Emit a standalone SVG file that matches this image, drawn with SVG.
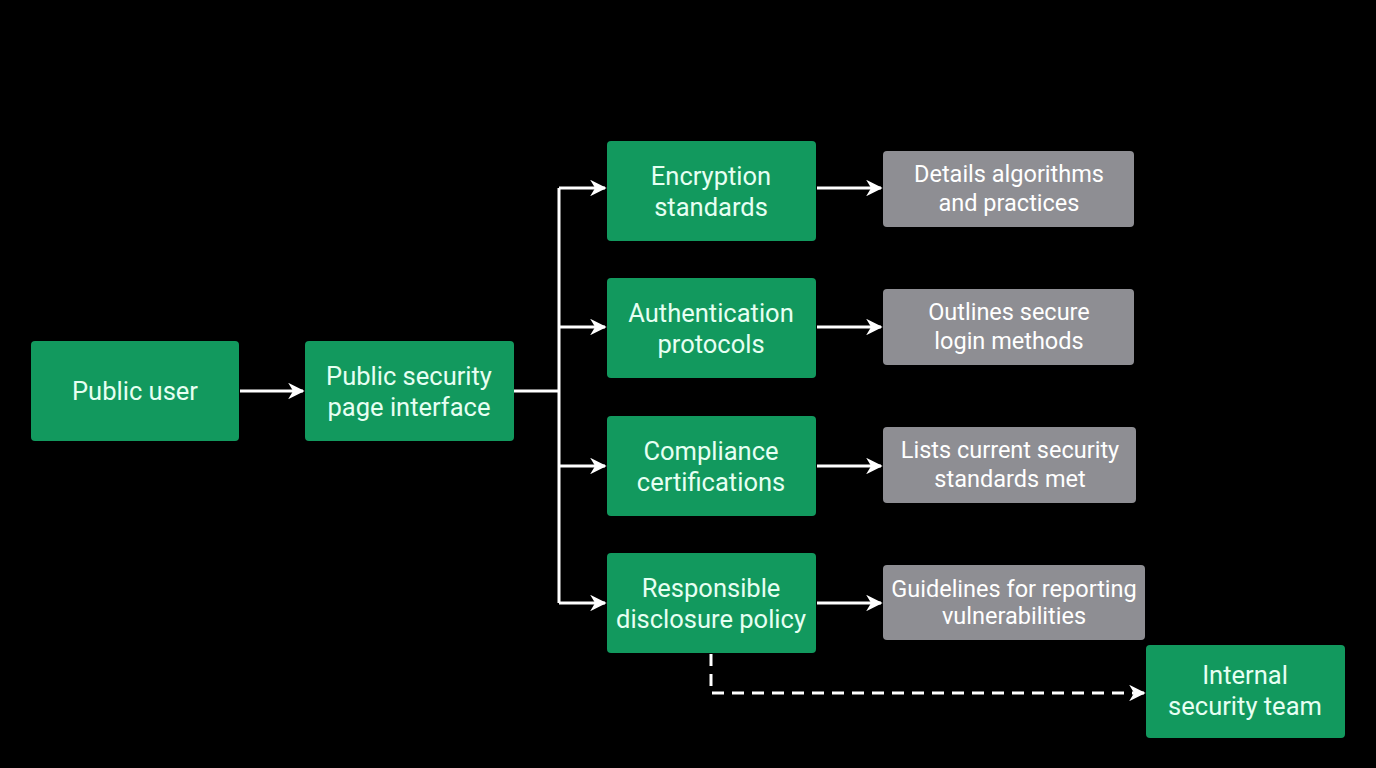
<svg xmlns="http://www.w3.org/2000/svg" width="1376" height="768" viewBox="0 0 1376 768">
<style>
.g{fill:#12995e}
.s{fill:#8e8e93}
.t{font-family:Roboto,"Liberation Sans",sans-serif;font-size:25.5px;fill:#e6fff2;text-anchor:middle}
.u{font-family:Roboto,"Liberation Sans",sans-serif;font-size:23.5px;fill:#ffffff;text-anchor:middle}
.c{stroke:#ffffff;stroke-width:3;fill:none}
</style>
<defs>
<marker id="a" viewBox="0 0 10 10" refX="9" refY="5" markerWidth="5.5" markerHeight="5.5" orient="auto" markerUnits="strokeWidth">
<path d="M0,0 L10,5 L0,10 L3,5 Z" fill="#ffffff"/>
</marker>
</defs>
<rect width="1376" height="768" fill="#000000"/>
<g id="connectors">
<path class="c" d="M240,391 H303" marker-end="url(#a)"/>
<path class="c" d="M514,391 H559"/>
<path class="c" d="M559,188 V603"/>
<path class="c" d="M559,188 H605" marker-end="url(#a)"/>
<path class="c" d="M559,327 H605" marker-end="url(#a)"/>
<path class="c" d="M559,466 H605" marker-end="url(#a)"/>
<path class="c" d="M559,603 H605" marker-end="url(#a)"/>
<path class="c" d="M817,188 H881" marker-end="url(#a)"/>
<path class="c" d="M817,327 H881" marker-end="url(#a)"/>
<path class="c" d="M817,466 H881" marker-end="url(#a)"/>
<path class="c" d="M817,603 H881" marker-end="url(#a)"/>
<path class="c" d="M711,654 V693 H1144" stroke-dasharray="12,8" marker-end="url(#a)"/>
</g>
<g id="public-user"><rect class="g" x="31" y="341" width="208" height="100" rx="4"/><text class="t" x="135" y="400">Public user</text></g>
<g id="security-page"><rect class="g" x="305" y="341" width="209" height="100" rx="4"/><text class="t" x="409" y="385">Public security</text><text class="t" x="409" y="416">page interface</text></g>
<g id="encryption"><rect class="g" x="607" y="141" width="209" height="100" rx="4"/><text class="t" x="711" y="185">Encryption</text><text class="t" x="711" y="216">standards</text></g>
<g id="authentication"><rect class="g" x="607" y="278" width="209" height="100" rx="4"/><text class="t" x="711" y="322">Authentication</text><text class="t" x="711" y="353">protocols</text></g>
<g id="compliance"><rect class="g" x="607" y="416" width="209" height="100" rx="4"/><text class="t" x="711" y="460">Compliance</text><text class="t" x="711" y="491">certifications</text></g>
<g id="disclosure"><rect class="g" x="607" y="553" width="209" height="100" rx="4"/><text class="t" x="711" y="597">Responsible</text><text class="t" x="711" y="628">disclosure policy</text></g>
<g id="details"><rect class="s" x="883" y="151" width="251" height="76" rx="4"/><text class="u" x="1009" y="182">Details algorithms</text><text class="u" x="1009" y="211">and practices</text></g>
<g id="outlines"><rect class="s" x="883" y="289" width="251" height="76" rx="4"/><text class="u" x="1009" y="320">Outlines secure</text><text class="u" x="1009" y="349">login methods</text></g>
<g id="lists"><rect class="s" x="883" y="427" width="253" height="76" rx="4"/><text class="u" x="1010" y="458">Lists current security</text><text class="u" x="1010" y="487">standards met</text></g>
<g id="guidelines"><rect class="s" x="883" y="565" width="262" height="75" rx="4"/><text class="u" x="1014" y="597">Guidelines for reporting</text><text class="u" x="1014" y="624">vulnerabilities</text></g>
<g id="internal"><rect class="g" x="1146" y="645" width="199" height="93" rx="4"/><text class="t" x="1245" y="684">Internal</text><text class="t" x="1245" y="715">security team</text></g>
</svg>
